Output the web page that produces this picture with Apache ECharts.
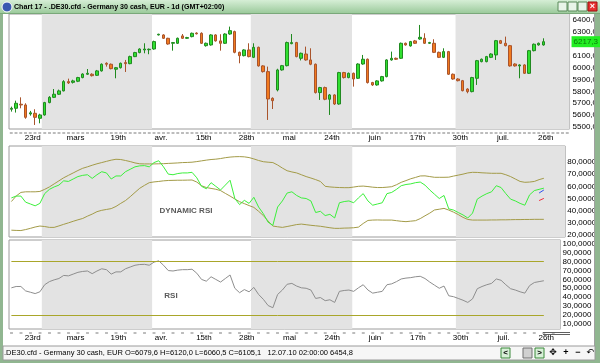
<!DOCTYPE html>
<html><head><meta charset="utf-8">
<script src="https://cdn.jsdelivr.net/npm/echarts@6/dist/echarts.min.js"></script>
<style>html,body{margin:0;padding:0;background:#fff;overflow:hidden}#c{width:600px;height:363px}</style>
</head><body><div id="c"></div>
<script>
// ---- price bars (daily) ----
const opens=[5650,5658,5692,5686,5610,5616,5574,5602,5706,5750,5776,5804,5882,5876,5885,5916,5944,5944,5935,5972,6036,6028,5986,5999,6042,6033,6092,6126,6148,6150,6156,6274,6274,6246,6204,6204,6266,6246,6260,6290,6288,6184,6190,6274,6224,6204,6282,6302,6128,6100,6148,6086,6170,6014,5966,5742,5812,5980,6016,6201,6210,6078,6114,6064,6028,5790,5832,5734,5770,5694,5958,5916,5952,5910,6030,6070,5874,5854,5888,5924,6064,6078,6078,6204,6182,6224,6240,6246,6204,6204,6128,6086,6134,5944,5904,5890,5820,5798,5910,6050,6050,6086,6106,6226,6204,6184,6030,6014,6022,5952,6142,6190,6190];
const closes=[5658,5700,5686,5582,5620,5582,5602,5706,5750,5776,5804,5882,5871,5888,5916,5946,5952,5932,5972,6028,6028,5991,5999,6036,6033,6092,6126,6156,6156,6154,6218,6280,6246,6198,6210,6246,6246,6252,6288,6284,6204,6204,6274,6224,6204,6282,6310,6128,6100,6148,6092,6170,6014,5966,5736,5722,5980,6016,6210,6210,6092,6120,6064,6028,5790,5832,5734,5770,5694,5958,5916,5952,5904,6030,6070,5874,5854,5888,5924,6064,6078,6070,6204,6190,6218,6204,6254,6204,6210,6128,6086,6134,5944,5904,5890,5806,5798,5916,6058,6070,6092,6114,6226,6204,6184,6014,6014,6022,5952,6142,6196,6204,6217.3];
const lows=[5630,5622,5658,5570,5596,5518,5532,5596,5700,5744,5770,5800,5862,5866,5878,5910,5938,5925,5930,5966,6008,5985,5910,5992,5963,6028,6088,6120,6120,6112,6150,6270,6240,6192,6142,6198,6240,6240,6254,6278,6198,6176,6184,6218,6142,6198,6276,6120,6036,6094,6086,6080,6008,5958,5560,5652,5800,5974,6010,6196,6086,6060,6058,6020,5782,5728,5726,5602,5686,5688,5908,5910,5840,5904,6024,5866,5846,5848,5882,5918,6058,6064,6072,6184,6176,6198,6234,6198,6198,6122,6080,6080,5938,5898,5884,5800,5784,5792,5854,6044,6044,6080,6064,6198,6178,6008,6008,5910,5946,5946,6136,6184,6184];
const highs=[5672,5722,5750,5700,5636,5650,5612,5712,5760,5820,5815,5894,5907,5898,5922,5952,5988,5952,5980,6035,6044,6034,6005,6042,6064,6100,6132,6162,6204,6160,6226,6284,6280,6250,6215,6252,6282,6258,6294,6296,6296,6210,6280,6280,6280,6288,6344,6310,6134,6154,6204,6204,6176,6020,6008,5750,5990,6022,6218,6282,6216,6126,6176,6162,6034,5838,5840,5778,5776,5964,5964,5958,5958,6036,6106,6076,5880,5894,5930,6070,6134,6084,6210,6210,6224,6232,6358,6288,6216,6238,6134,6162,6140,5950,5910,5896,5826,5922,6064,6076,6098,6120,6232,6232,6260,6190,6036,6028,6028,6148,6202,6210,6246];
// ---- indicators ----
const rsi=[50.5,52,52,47,45.5,44,46,54,57.5,59.5,61,64.5,64,66,68,69,69.5,66.5,69.5,72,71,66,68.5,68.5,72,74,76,76.8,77,76,79.5,81,76,70,69.5,70.5,71,71,71.5,67,60,58,63,60,57,61,65,50,45,48.5,46,51,43,37.5,30.5,28,43,48,54.5,55.5,52.5,50.5,50,48,38.5,39.5,36,37,34,46.5,47.5,48,46.5,50.5,54,48,44.5,45.5,46.5,54,55,57.5,60.5,61.5,62,63,63.5,61,57,53.5,50,52.5,41.5,40.5,38.5,36.5,34,38,49.5,52,54,55.5,60.5,59,54,49.5,48,46,44.5,53,56.5,57.5,58.5];
const bandUpper=[47.5,52,55,55.5,55.5,55.5,55.8,57.5,59.5,62,64.5,67,69,71,73,74.8,76,77.3,78.5,79.5,80.5,81.5,82.2,82,81.2,80.3,79.2,78.5,78.4,78.4,78.4,78.5,78.6,78.8,79,79.2,79.5,79.6,79.8,80.3,80.9,81.5,82,82.3,82.8,83.5,84,84.3,84.4,84.2,83.6,82.5,81.2,80.2,79.8,79.5,77.5,75,72.8,71.8,71,69.5,68,66.8,65.5,64,60,59.5,59.2,59,58.9,58.9,59.4,60,60.2,59.8,59.3,59,59,59.3,59.7,61.3,63.3,64.7,66.2,67.3,68.5,68.6,68,67.4,67.4,67.4,67.5,68.4,69.2,70,71,71.5,71.4,71.1,70.9,70.7,70.7,70.7,69.5,68,66,64,63.3,63.5,64,65.5,66.6];
const bandLower=[24,23.8,23.7,24.5,25.5,26.6,27.4,27,26.3,26.3,27.5,28.8,30,31.3,32.5,33.6,35.5,37.2,39.2,40.3,41,41.7,43.5,46,48.3,51.5,55,58.4,60.8,63,63.6,64,64.5,64.8,64.9,65,65,65.1,65.2,63.5,60.5,59,58.3,57.6,56.5,54.2,52,49.6,47.4,45.8,44.2,42.7,39.5,36,31.5,27.4,26.8,26.3,27,27.8,28.6,29,28.5,28,27.6,27.2,26.6,26,25.5,25.5,25.7,25.8,26,26.5,29.5,32,32.3,32.4,32.3,32.3,32.3,31.8,31.3,31,31.4,31.8,33.5,35.8,38,40.6,41.2,41.9,40.5,38.8,36.8,34.5,32.8,32.3,32.3,32.3,32.3,32.4,32.4,32.5,32.5,32.6,32.7,32.7,32.8,32.8,32.9,32.9,32.9];
const blueTail=[54.5,57.0];
const redTail=[48.3,50.1];
const rsiLevels=[80,20];
// ---- axes / labels ----
const dateLabels=['23rd','mars','19th','avr.','15th','28th','mai','24th','juin','17th','30th','juil.','26th'];
const dateLabelSlots=[5,14,23,32,41,50,59,68,77,86,95,104,113];
const priceTicks=[5500,5600,5700,5800,5900,6000,6100,6200,6300,6400];
const dynTicks=[20,30,40,50,60,70,80];
const rsiTicks=[10,20,30,40,50,60,70,80,90,100];
const monthShade=[[6.9,30.1],[50.9,72.2],[94,200]];
const titleText='Chart 17 - .DE30.cfd - Germany 30 cash, EUR - 1d (GMT+02:00)';
const statusText='.DE30.cfd - Germany 30 cash, EUR O=6079,6 H=6120,0 L=6060,5 C=6105,1   12.07.10 02:00:00 6454,8';

const FONT='Liberation Sans';
const slotPx=561/118;
const slots=[118,117,116];
const cats=slots.map(n=>Array.from({length:n},(_,i)=>String(i)));
const fmt=(v,d)=>v.toFixed(d).replace('.',',');
const candles=opens.map((o,i)=>[o,closes[i],lows[i],highs[i]]);
const pad=(tail)=>rsi.map((_,i)=>{const k=i-(rsi.length-tail.length);return k>=0?tail[k]:null;});
const lastPrice=closes[closes.length-1];

const grids=[
 {left:9,top:14,width:561,height:115},
 {left:9,top:146,width:slots[1]*slotPx,height:91},
 {left:9,top:240,width:slots[2]*slotPx,height:89}
].map(g=>Object.assign(g,{show:true,borderColor:'#9c9c9c',borderWidth:1,backgroundColor:'#fff'}));

function catAxis(gi,dashEvery){
  return {type:'category',gridIndex:gi,position:'bottom',data:cats[gi],boundaryGap:true,
    axisLine:{show:false},axisTick:{show:false},splitLine:{show:false},
    axisLabel:dashEvery?{show:true,interval:0,margin:1,fontSize:6,color:'#808080',fontFamily:FONT,
      formatter:(v,i)=>(i%dashEvery===0?'=':'')}:{show:false}};
}
function valAxis(gi,showDates){
  return {type:'value',gridIndex:gi,position:'bottom',min:0,max:slots[gi],show:showDates,
    axisLine:{show:false},axisTick:{show:false},splitLine:{show:false},
    axisLabel:{show:showDates,customValues:dateLabelSlots,margin:5,fontSize:8,color:'#000',fontFamily:FONT,
      formatter:v=>{const k=dateLabelSlots.indexOf(v);return k>=0?dateLabels[k]:'';}}};
}
function yAx(gi,min,max,ticks,dec,margin){
  return {type:'value',gridIndex:gi,position:'right',min:min,max:max,scale:true,
    axisLine:{show:false},axisTick:{show:false},splitLine:{show:false},
    axisLabel:{customValues:ticks,margin:margin,fontSize:8,color:'#000',fontFamily:FONT,formatter:v=>fmt(v,dec)}};
}
function shade(xi,yi,gi){
  return {type:'line',xAxisIndex:xi,yAxisIndex:yi,data:[],silent:true,z:0,
    markArea:{silent:true,itemStyle:{color:'#e3e3e3'},
      data:monthShade.map(([a,b])=>[{xAxis:a},{xAxis:Math.min(b,slots[gi])}])}};
}

const option={
 animation:false,
 grid:grids,
 xAxis:[catAxis(0,1),valAxis(0,true),catAxis(1,0),valAxis(1,false),catAxis(2,2),valAxis(2,true)],
 yAxis:[yAx(0,5484,6450,priceTicks,1,3),yAx(1,18.4,93.1,dynTicks,4,2),yAx(2,4,104.5,rsiTicks,4,2)],
 series:[
  shade(1,0,0),
  {type:'candlestick',xAxisIndex:0,yAxisIndex:0,data:candles,barWidth:3,z:3,
   itemStyle:{color:'#30e030',color0:'#f27a1e',borderColor:'#208a20',borderColor0:'#a9542c',borderWidth:1},
   markLine:{silent:true,symbol:'none',z:20,lineStyle:{color:'rgba(0,0,0,0)',width:0},
     label:{show:true,position:'end',distance:2,formatter:()=>fmt(lastPrice,1),backgroundColor:'#22ee22',
       color:'#0b7a0b',fontSize:8,fontFamily:FONT,padding:[2,2,1,2]},
     data:[{yAxis:lastPrice}]}},
  shade(3,1,1),
  {type:'line',xAxisIndex:2,yAxisIndex:1,data:bandUpper,symbol:'none',lineStyle:{color:'#a39b48',width:1},z:3},
  {type:'line',xAxisIndex:2,yAxisIndex:1,data:bandLower,symbol:'none',lineStyle:{color:'#a39b48',width:1},z:3},
  {type:'line',xAxisIndex:2,yAxisIndex:1,data:rsi,symbol:'none',lineStyle:{color:'#3cf03c',width:1},z:4},
  {type:'line',xAxisIndex:2,yAxisIndex:1,data:pad(blueTail),symbol:'none',lineStyle:{color:'#3050f0',width:1},z:4},
  {type:'line',xAxisIndex:2,yAxisIndex:1,data:pad(redTail),symbol:'none',lineStyle:{color:'#f03040',width:1},z:4},
  shade(5,2,2),
  {type:'line',xAxisIndex:4,yAxisIndex:2,data:rsi,symbol:'none',lineStyle:{color:'#8e8e8e',width:1},z:4,
   markLine:{silent:true,symbol:'none',label:{show:false},lineStyle:{color:'#a9a62a',width:1,type:'solid'},
     data:rsiLevels.map(l=>[{coord:['0',l]},{coord:[String(rsi.length-1),l]}])}}
 ],
 graphic:[
  {type:'rect',shape:{x:0,y:0,width:3,height:363},style:{fill:'#90b690'},z:10},
  {type:'rect',shape:{x:595,y:0,width:5,height:363},style:{fill:'#90b690'},z:10},
  {type:'rect',shape:{x:0,y:360,width:600,height:3},style:{fill:'#90b690'},z:10},
  {type:'line',shape:{x1:594.5,y1:14,x2:594.5,y2:360},style:{stroke:'#a0a0a0',lineWidth:1},z:10},
  {type:'rect',shape:{x:0,y:0,width:600,height:14},z:10,
   style:{fill:new echarts.graphic.LinearGradient(0,0,0,1,[{offset:0,color:'#d6eed6'},{offset:1,color:'#98c898'}])}},
  {type:'line',shape:{x1:0,y1:13.5,x2:600,y2:13.5},style:{stroke:'#7aa87a',lineWidth:1},z:11},
  {type:'circle',shape:{cx:7,cy:7,r:5},style:{fill:'#3a5ab0',stroke:'#fff',lineWidth:1},z:11},
  {type:'text',x:14,y:7,z:11,style:{text:titleText,font:'bold 7.1px "Liberation Sans"',fill:'#000',verticalAlign:'middle'}},
  {type:'rect',shape:{x:558,y:2,width:9,height:9},style:{fill:'#e8f4e8',stroke:'#5a8a5a'},z:11},
  {type:'rect',shape:{x:568,y:2,width:9,height:9},style:{fill:'#e8f4e8',stroke:'#5a8a5a'},z:11},
  {type:'rect',shape:{x:578,y:2,width:9,height:9},style:{fill:'#e8f4e8',stroke:'#5a8a5a'},z:11},
  {type:'rect',shape:{x:588,y:2,width:9,height:9},style:{fill:'#e83030',stroke:'#a01010'},z:11},
  {type:'text',x:592.5,y:7,z:12,style:{text:'×',font:'bold 9px "Liberation Sans"',fill:'#fff',align:'center',verticalAlign:'middle'}},
  {type:'text',x:186,y:211,z:12,style:{text:'DYNAMIC RSI',font:'bold 8px "Liberation Sans"',fill:'#5a5a5a',align:'center',verticalAlign:'middle'}},
  {type:'text',x:171,y:296,z:12,style:{text:'RSI',font:'bold 8px "Liberation Sans"',fill:'#5a5a5a',align:'center',verticalAlign:'middle'}},
  {type:'line',shape:{x1:543,y1:332.5,x2:570,y2:332.5},style:{stroke:'#606060',lineWidth:1},z:12},
  {type:'line',shape:{x1:543,y1:334.5,x2:570,y2:334.5},style:{stroke:'#606060',lineWidth:1},z:12},
  {type:'rect',shape:{x:3,y:346,width:592,height:14},style:{fill:'#f6f6f6',stroke:'#9a9a9a',lineWidth:1},z:10},
  {type:'text',x:4,y:353,z:11,style:{text:statusText,font:'7.5px "Liberation Sans"',fill:'#000',verticalAlign:'middle'}},
  {type:'rect',shape:{x:501,y:348,width:9,height:10},style:{fill:'#d8f0d8',stroke:'#3a8a3a'},z:11},
  {type:'text',x:505.5,y:353,z:12,style:{text:'<',font:'bold 8px "Liberation Sans"',fill:'#000',align:'center',verticalAlign:'middle'}},
  {type:'rect',shape:{x:523,y:348,width:9,height:10},style:{fill:'#d0d0d0',stroke:'#707070'},z:11},
  {type:'rect',shape:{x:535,y:348,width:9,height:10},style:{fill:'#d8f0d8',stroke:'#3a8a3a'},z:11},
  {type:'text',x:539.5,y:353,z:12,style:{text:'>',font:'bold 8px "Liberation Sans"',fill:'#000',align:'center',verticalAlign:'middle'}},
  {type:'text',x:553,y:353,z:12,style:{text:'✥',font:'9px "DejaVu Sans"',fill:'#000',align:'center',verticalAlign:'middle'}},
  {type:'text',x:566,y:353,z:12,style:{text:'+',font:'bold 9px "Liberation Sans"',fill:'#000',align:'center',verticalAlign:'middle'}},
  {type:'text',x:578,y:353,z:12,style:{text:'−',font:'bold 9px "Liberation Sans"',fill:'#000',align:'center',verticalAlign:'middle'}},
  {type:'text',x:590,y:353,z:12,style:{text:'↶',font:'9px "DejaVu Sans"',fill:'#000',align:'center',verticalAlign:'middle'}}
 ]
};
const chart=echarts.init(document.getElementById('c'),null,{renderer:'canvas'});
chart.setOption(option);
</script></body></html>
